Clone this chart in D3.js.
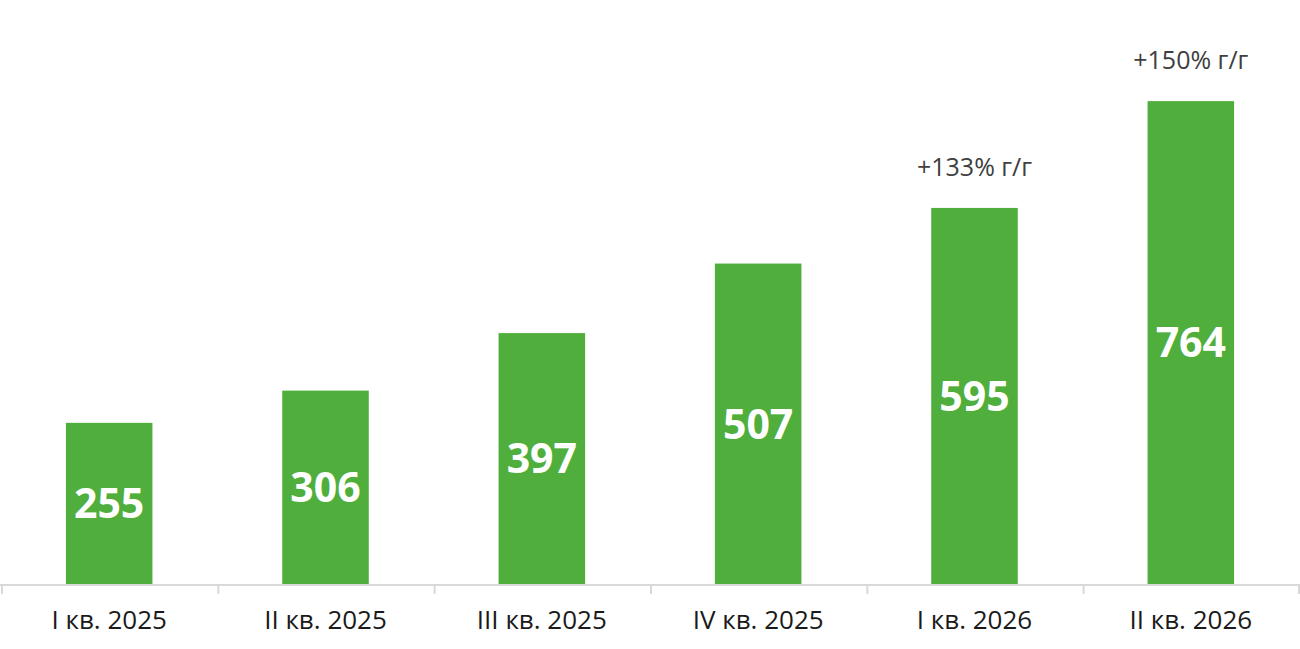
<!DOCTYPE html>
<html>
<head>
<meta charset="utf-8">
<script src="https://cdn.jsdelivr.net/npm/d3@7"></script>
<style>
  body { margin: 0; background: #fff; }
  svg { display: block; }
</style>
</head>
<body>
<div id="chart"></div>
<script>
// data
const quarters = ['I кв. 2025', 'II кв. 2025', 'III кв. 2025', 'IV кв. 2025', 'I кв. 2026', 'II кв. 2026']
const values = [255, 306, 397, 507, 595, 764]
const growthNotes = [null, null, null, null, '+133% г/г', '+150% г/г']

const width = 1300,
    height = 649
const baseY = 584

const svg = d3.select('#chart')
    .append('svg')
    .attr('width', width)
    .attr('height', height)

const x = d3.scaleBand()
    .domain(quarters)
    .range([2, 1300])
    .paddingInner(0.6)
    .paddingOuter(0.3)

const y = d3.scaleLinear()
    .domain([0, 924])
    .range([baseY, 0])

const data = quarters.map((q, i) => ({ q, value: values[i], note: growthNotes[i] }))

// bars
svg.selectAll('rect.bar')
    .data(data)
    .enter()
    .append('rect')
    .attr('class', 'bar')
    .attr('x', d => x(d.q) - 1)
    .attr('y', d => y(d.value))
    .attr('width', x.bandwidth())
    .attr('height', d => baseY - y(d.value))
    .attr('fill', '#50af3c')

// value labels in the middle of the bar
svg.selectAll('text.value')
    .data(data)
    .enter()
    .append('text')
    .attr('class', 'value')
    .attr('x', d => x(d.q) - 1 + x.bandwidth() / 2)
    .attr('y', d => (y(d.value) + baseY) / 2)
    .attr('dy', '0.36em')
    .attr('text-anchor', 'middle')
    .style('font-family', '"Open Sans", sans-serif')
    .style('font-weight', 700)
    .style('font-size', '41px')
    .style('fill', '#fff')
    .text(d => d.value)

// growth notes above the last bars
svg.selectAll('text.note')
    .data(data.filter(d => d.note))
    .enter()
    .append('text')
    .attr('class', 'note')
    .attr('x', d => x(d.q) - 1 + x.bandwidth() / 2)
    .attr('y', d => y(d.value) - 32)
    .attr('text-anchor', 'middle')
    .style('font-family', '"Open Sans", sans-serif')
    .style('font-size', '25px')
    .style('fill', '#404040')
    .text(d => d.note)

// x axis: line with ticks at band edges
const axis = svg.append('g')
const edges = quarters.map(q => x(q) - x.step() * x.paddingInner() / 2)
edges.push(x.range()[1])
edges[0] = x.range()[0]

axis.append('line')
    .attr('x1', 0)
    .attr('x2', width)
    .attr('y1', baseY + 1)
    .attr('y2', baseY + 1)
    .attr('stroke', '#d9d9d9')
    .attr('stroke-width', 2)

axis.selectAll('line.tick')
    .data(edges)
    .enter()
    .append('line')
    .attr('class', 'tick')
    .attr('x1', d => Math.min(d, width - 1))
    .attr('x2', d => Math.min(d, width - 1))
    .attr('y1', baseY)
    .attr('y2', baseY + 10)
    .attr('stroke', '#d9d9d9')
    .attr('stroke-width', 2)

axis.selectAll('text.cat')
    .data(quarters)
    .enter()
    .append('text')
    .attr('class', 'cat')
    .attr('x', d => x(d) - 1 + x.bandwidth() / 2)
    .attr('y', 629)
    .attr('text-anchor', 'middle')
    .style('font-family', '"Open Sans", sans-serif')
    .style('font-size', '26px')
    .style('fill', '#1a1a1a')
    .text(d => d)
</script>
</body>
</html>
